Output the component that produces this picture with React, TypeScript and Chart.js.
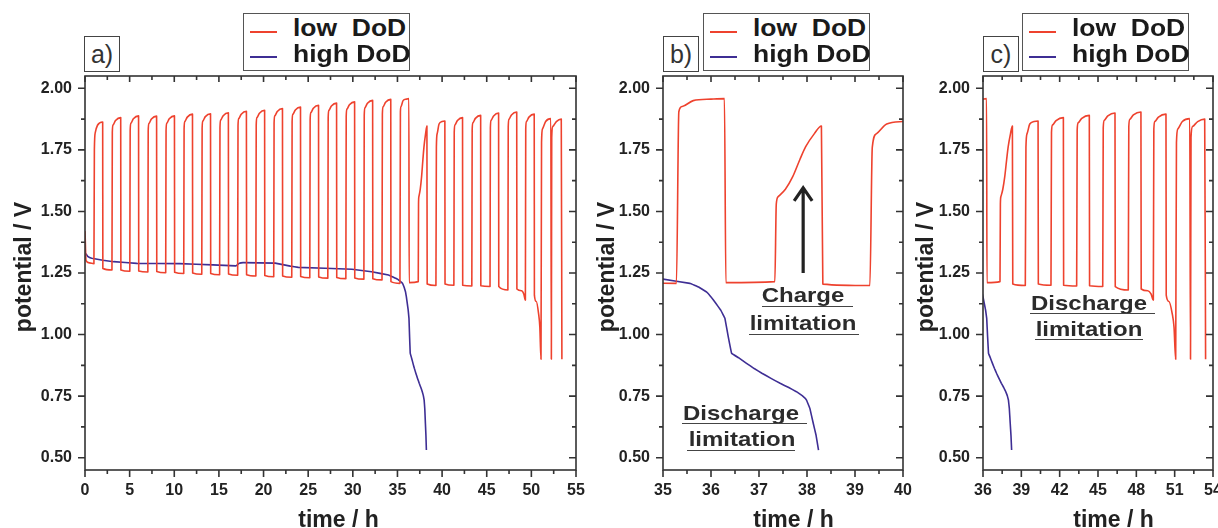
import React, { useEffect, useRef } from 'react';
import { Chart, registerables } from 'chart.js';

Chart.register(...registerables);

const FONT = "'Liberation Sans', Arial, Helvetica, sans-serif";
const RED = 'rgb(238, 66, 46)';
const BLUE = 'rgb(62, 46, 148)';
const INK = '#222222';

// ---------------- data ----------------
const seriesNames = ['low  DoD', 'high DoD'];
const panelLabels = ['a)', 'b)', 'c)'];
const axisTitles = { x: 'time / h', y: 'potential / V' };
const potentialTicks = [0.5, 0.75, 1.0, 1.25, 1.5, 1.75, 2.0];
const potentialRange = [0.45, 2.05];
const timeTicksA = [0, 5, 10, 15, 20, 25, 30, 35, 40, 45, 50, 55];
const timeTicksB = [35, 36, 37, 38, 39, 40];
const timeTicksC = [36, 39, 42, 45, 48, 51, 54];

// [time / h, potential / V]
const lowDoD: [number, number][] = [
  [0.0, 1.42], [0.12, 1.3], [0.5, 1.291], [1.0, 1.288],
  [1.05, 1.75], [1.15, 1.82], [1.4, 1.85], [1.98, 1.863], [2.0, 1.268], [3.02, 1.262],
  [3.06, 1.821], [3.14, 1.851], [3.42, 1.869], [4.0, 1.881], [4.02, 1.262], [5.02, 1.257],
  [5.06, 1.828], [5.14, 1.858], [5.42, 1.876], [6.0, 1.888], [6.02, 1.258], [7.04, 1.254],
  [7.08, 1.827], [7.16, 1.857], [7.44, 1.875], [8.02, 1.887], [8.04, 1.256], [9.04, 1.251],
  [9.08, 1.828], [9.16, 1.858], [9.44, 1.876], [10.02, 1.888], [10.04, 1.253], [11.06, 1.248],
  [11.1, 1.835], [11.18, 1.865], [11.46, 1.883], [12.04, 1.895], [12.06, 1.25], [13.08, 1.245],
  [13.12, 1.837], [13.2, 1.867], [13.48, 1.885], [14.06, 1.897], [14.08, 1.248], [15.08, 1.243],
  [15.12, 1.841], [15.2, 1.871], [15.48, 1.889], [16.06, 1.901], [16.08, 1.246], [17.1, 1.241],
  [17.14, 1.847], [17.22, 1.877], [17.5, 1.895], [18.08, 1.907], [18.1, 1.243], [19.14, 1.238],
  [19.18, 1.851], [19.26, 1.881], [19.54, 1.899], [20.12, 1.911], [20.14, 1.24], [21.14, 1.235],
  [21.18, 1.858], [21.26, 1.888], [21.54, 1.906], [22.12, 1.918], [22.14, 1.238], [23.16, 1.233],
  [23.2, 1.864], [23.28, 1.894], [23.56, 1.912], [24.14, 1.924], [24.16, 1.236], [25.18, 1.231],
  [25.22, 1.871], [25.3, 1.901], [25.58, 1.919], [26.16, 1.931], [26.18, 1.234], [27.2, 1.229],
  [27.24, 1.88], [27.32, 1.91], [27.6, 1.928], [28.18, 1.94], [28.2, 1.232], [29.22, 1.227],
  [29.26, 1.885], [29.34, 1.915], [29.62, 1.933], [30.2, 1.945], [30.22, 1.23], [31.24, 1.225],
  [31.28, 1.891], [31.36, 1.921], [31.64, 1.939], [32.22, 1.951], [32.24, 1.227], [33.27, 1.222],
  [33.31, 1.895], [33.39, 1.925], [33.67, 1.943], [34.25, 1.955], [34.27, 1.215], [35.28, 1.208],
  [35.33, 1.905], [35.4, 1.926], [35.63, 1.95], [36.0, 1.956], [36.28, 1.958], [36.31, 1.211], [37.33, 1.215],
  [37.36, 1.53], [37.4, 1.56], [37.55, 1.59], [37.7, 1.64], [37.85, 1.71], [37.97, 1.762], [38.15, 1.815], [38.3, 1.847],
  [38.33, 1.205], [39.31, 1.199],
  [39.36, 1.76], [39.45, 1.816], [39.66, 1.855], [40.0, 1.865], [40.31, 1.867], [40.33, 1.205], [41.32, 1.2],
  [41.36, 1.821], [41.44, 1.851], [41.72, 1.869], [42.29, 1.881], [42.31, 1.2], [43.33, 1.197],
  [43.37, 1.83], [43.45, 1.86], [43.73, 1.878], [44.32, 1.89], [44.34, 1.198], [45.37, 1.195],
  [45.41, 1.84], [45.49, 1.87], [45.77, 1.888], [46.33, 1.9], [46.35, 1.195], [47.37, 1.181],
  [47.41, 1.844], [47.49, 1.874], [47.77, 1.892], [48.36, 1.904], [48.38, 1.185], [48.9, 1.178], [49.15, 1.165], [49.33, 1.14],
  [49.37, 1.835], [49.45, 1.865], [49.73, 1.883], [50.32, 1.895], [50.34, 1.16], [50.55, 1.134], [50.8, 1.087], [50.95, 1.03], [51.08, 0.9],
  [51.14, 1.78], [51.25, 1.835], [51.6, 1.865], [52.18, 1.877], [52.24, 0.9],
  [52.28, 1.8], [52.4, 1.845], [52.8, 1.865], [53.35, 1.875], [53.42, 0.9],
];

const highDoD: [number, number][] = [
  [0.0, 1.332], [0.3, 1.318], [0.75, 1.31], [2.0, 1.302], [3.2, 1.296], [5.8, 1.289],
  [10.6, 1.288], [14.3, 1.283], [16.9, 1.279], [17.3, 1.29], [17.7, 1.292], [21.3, 1.29],
  [23.0, 1.278], [23.9, 1.273], [29.9, 1.265], [32.1, 1.255], [34.0, 1.242], [35.0, 1.225],
  [35.56, 1.208], [35.75, 1.192], [35.9, 1.174], [36.0, 1.153], [36.1, 1.127], [36.2, 1.1],
  [36.29, 1.066], [36.36, 0.991], [36.43, 0.924], [36.58, 0.905], [36.74, 0.883], [36.9, 0.862],
  [37.06, 0.843], [37.25, 0.822], [37.44, 0.802], [37.62, 0.785], [37.78, 0.768], [37.9, 0.752],
  [37.99, 0.734], [38.06, 0.7], [38.13, 0.64], [38.19, 0.59], [38.24, 0.531],
];

const chargeArrow = { time: 37.92, from: 1.25, to: 1.6 };

type TitlePos = { xCenter: number; xBaseline: number; yCenterX: number; yCenterY: number };

// ---------------- plugin: frame, mirrored ticks, titles, arrow ----------------
function makeFramePlugin(arrow: typeof chargeArrow | null, tp: TitlePos) {
  return {
    id: 'frameTicks',
    afterDraw(chart: any) {
      const { ctx, chartArea } = chart;
      const { left, right, top, bottom } = chartArea;
      const xs = chart.scales.x;
      const ys = chart.scales.y;
      const xv: number[] = xs.ticks.map((t: any) => t.value);
      const yv: number[] = ys.ticks.map((t: any) => t.value);
      const xMinor = xv.slice(1).map((v, i) => (v + xv[i]) / 2);
      const yMinor = yv.slice(1).map((v, i) => (v + yv[i]) / 2);
      ctx.save();
      ctx.strokeStyle = '#333';
      ctx.lineWidth = 1.6;
      ctx.beginPath();
      const xt = (v: number, big: number, small: number) => {
        const p = xs.getPixelForValue(v);
        ctx.moveTo(p, bottom); ctx.lineTo(p, bottom + big);
        ctx.moveTo(p, top); ctx.lineTo(p, top + small);
      };
      const yt = (v: number, big: number, small: number) => {
        const p = ys.getPixelForValue(v);
        ctx.moveTo(left, p); ctx.lineTo(left - big, p);
        ctx.moveTo(right, p); ctx.lineTo(right - small, p);
      };
      xv.forEach((v) => xt(v, 7, 6));
      xMinor.forEach((v) => xt(v, 4, 4));
      yv.forEach((v) => yt(v, 7, 7));
      yMinor.forEach((v) => yt(v, 4, 4));
      ctx.stroke();
      ctx.strokeRect(left, top, right - left, bottom - top);

      // axis titles
      ctx.fillStyle = INK;
      ctx.font = `bold 23px ${FONT}`;
      ctx.textAlign = 'center';
      ctx.textBaseline = 'alphabetic';
      ctx.fillText(axisTitles.x, tp.xCenter, tp.xBaseline);
      ctx.save();
      ctx.translate(tp.yCenterX, tp.yCenterY);
      ctx.rotate(-Math.PI / 2);
      ctx.textBaseline = 'middle';
      ctx.fillText(axisTitles.y, 0, 0);
      ctx.restore();

      if (arrow) {
        const px = xs.getPixelForValue(arrow.time);
        const y0 = ys.getPixelForValue(arrow.from);
        const y1 = ys.getPixelForValue(arrow.to);
        ctx.strokeStyle = '#222';
        ctx.lineWidth = 3.2;
        ctx.lineJoin = 'miter';
        ctx.beginPath();
        ctx.moveTo(px, y0);
        ctx.lineTo(px, y1 + 2);
        ctx.moveTo(px - 9, y1 + 14);
        ctx.lineTo(px, y1 + 1);
        ctx.lineTo(px + 9, y1 + 14);
        ctx.stroke();
      }
      ctx.restore();
    },
  };
}

type PanelProps = {
  left: number;
  width: number;
  axisWidth: number;
  padRight: number;
  ticks: number[];
  titles: TitlePos;
  arrow: typeof chargeArrow | null;
};

function Panel({ left, width, axisWidth, padRight, ticks, titles, arrow }: PanelProps) {
  const ref = useRef<HTMLCanvasElement>(null);
  useEffect(() => {
    const tickFont = { family: FONT, size: 16, weight: 'bold' as const };
    const chart = new Chart(ref.current as HTMLCanvasElement, {
      type: 'line',
      data: {
        datasets: [
          {
            label: seriesNames[0],
            data: lowDoD.map(([x, y]) => ({ x, y })),
            borderColor: RED,
            backgroundColor: RED,
            borderWidth: 1.6,
            borderJoinStyle: 'round',
            pointRadius: 0,
            cubicInterpolationMode: 'monotone',
            fill: false,
          },
          {
            label: seriesNames[1],
            data: highDoD.map(([x, y]) => ({ x, y })),
            borderColor: BLUE,
            backgroundColor: BLUE,
            borderWidth: 1.6,
            borderJoinStyle: 'round',
            pointRadius: 0,
            tension: 0.02,
            fill: false,
          },
        ],
      },
      options: {
        responsive: false,
        animation: false,
        devicePixelRatio: 1,
        layout: { padding: { top: 76, right: padRight, left: 0, bottom: 0 } },
        plugins: { legend: { display: false }, tooltip: { enabled: false } },
        scales: {
          x: {
            type: 'linear',
            min: ticks[0],
            max: ticks[ticks.length - 1],
            grid: { display: false, drawTicks: false },
            border: { display: false },
            afterBuildTicks: (s: any) => {
              s.ticks = ticks.map((v) => ({ value: v }));
            },
            afterFit: (s: any) => {
              s.height = 58;
              s.paddingLeft = 0;
              s.paddingRight = 0;
            },
            ticks: {
              font: tickFont,
              color: INK,
              padding: 11,
              maxRotation: 0,
              autoSkip: false,
              callback: (v: any) => String(v),
            },
            title: { display: false },
          },
          y: {
            type: 'linear',
            min: potentialRange[0],
            max: potentialRange[1],
            grid: { display: false, drawTicks: false },
            border: { display: false },
            afterBuildTicks: (s: any) => {
              s.ticks = potentialTicks.map((v) => ({ value: v }));
            },
            afterFit: (s: any) => {
              s.width = axisWidth;
              s.paddingTop = 0;
              s.paddingBottom = 0;
            },
            ticks: {
              font: tickFont,
              color: INK,
              padding: 13,
              autoSkip: false,
              callback: (v: any) => Number(v).toFixed(2),
            },
            title: { display: false },
          },
        },
      },
      plugins: [makeFramePlugin(arrow, titles)],
    } as any);
    return () => chart.destroy();
  }, []);
  return (
    <canvas
      ref={ref}
      width={width}
      height={528}
      style={{ position: 'absolute', left, top: 0, width, height: 528, display: 'block' }}
    />
  );
}

function Legend({ left }: { left: number }) {
  const text: React.CSSProperties = {
    position: 'absolute',
    left: 48.5,
    fontFamily: FONT,
    fontWeight: 'bold',
    fontSize: 23,
    lineHeight: '23px',
    whiteSpace: 'pre',
    color: '#1a1a1a',
    transform: 'scaleX(1.15)',
    transformOrigin: 'left center',
  };
  return (
    <div
      style={{
        position: 'absolute',
        left,
        top: 13,
        width: 167,
        height: 58,
        border: '1.5px solid #555',
        boxSizing: 'border-box',
        background: '#fff',
      }}
    >
      <div style={{ position: 'absolute', left: 5.5, top: 16.8, width: 27, height: 0, borderTop: `2px solid ${RED}` }} />
      <div style={{ position: 'absolute', left: 5.5, top: 41.8, width: 27, height: 0, borderTop: `2px solid ${BLUE}` }} />
      <div style={{ ...text, top: 2.7 }}>{seriesNames[0]}</div>
      <div style={{ ...text, top: 28.7 }}>{seriesNames[1]}</div>
    </div>
  );
}

function PanelLabel({ left, text }: { left: number; text: string }) {
  return (
    <div
      style={{
        position: 'absolute',
        left,
        top: 36,
        width: 36,
        height: 36,
        border: '1.5px solid #444',
        boxSizing: 'border-box',
        background: '#fff',
        display: 'flex',
        alignItems: 'center',
        justifyContent: 'center',
        fontFamily: FONT,
        fontSize: 25,
        color: '#333',
      }}
    >
      {text}
    </div>
  );
}

function Note({ cx, baseline, text }: { cx: number; baseline: number; text: string }) {
  return (
    <div
      style={{
        position: 'absolute',
        left: cx,
        top: baseline - 17.35,
        fontFamily: FONT,
        fontWeight: 'bold',
        fontSize: 20.5,
        lineHeight: '20.5px',
        whiteSpace: 'nowrap',
        color: '#2b2b2b',
        transform: 'translateX(-50%) scaleX(1.17)',
        transformOrigin: 'center center',
      }}
    >
      {text}
    </div>
  );
}

function Rule({ x1, x2, y }: { x1: number; x2: number; y: number }) {
  return <div style={{ position: 'absolute', left: x1, top: y, width: x2 - x1, height: 0, borderTop: '1.5px solid #444' }} />;
}

export default function App() {
  return (
    <div
      style={{
        position: 'absolute',
        left: 0,
        top: 0,
        width: 1218,
        height: 528,
        overflow: 'hidden',
        background: '#fff',
      }}
    >
      <Panel
        left={0}
        width={600}
        axisWidth={85}
        padRight={24}
        ticks={timeTicksA}
        titles={{ xCenter: 338.5, xBaseline: 526.5, yCenterX: 25, yCenterY: 267 }}
        arrow={null}
      />
      <Panel
        left={590}
        width={330}
        axisWidth={73}
        padRight={17}
        ticks={timeTicksB}
        titles={{ xCenter: 203.5, xBaseline: 526.5, yCenterX: 18, yCenterY: 267 }}
        arrow={chargeArrow}
      />
      <Panel
        left={910}
        width={308}
        axisWidth={73}
        padRight={5}
        ticks={timeTicksC}
        titles={{ xCenter: 203.5, xBaseline: 526.5, yCenterX: 17, yCenterY: 267 }}
        arrow={null}
      />

      <Legend left={243} />
      <Legend left={703} />
      <Legend left={1022} />
      <PanelLabel left={84} text={panelLabels[0]} />
      <PanelLabel left={663} text={panelLabels[1]} />
      <PanelLabel left={983} text={panelLabels[2]} />

      <Note cx={803} baseline={302.7} text="Charge" />
      <Rule x1={762} x2={853} y={306} />
      <Note cx={803} baseline={330} text="limitation" />
      <Rule x1={749} x2={859} y={333.5} />

      <Note cx={741} baseline={420} text="Discharge" />
      <Rule x1={682} x2={807} y={422.5} />
      <Note cx={742} baseline={446.7} text="limitation" />
      <Rule x1={687} x2={795} y={449.5} />

      <Note cx={1089} baseline={310} text="Discharge" />
      <Rule x1={1030} x2={1155} y={312.5} />
      <Note cx={1089} baseline={336.7} text="limitation" />
      <Rule x1={1035} x2={1143} y={339} />
    </div>
  );
}
